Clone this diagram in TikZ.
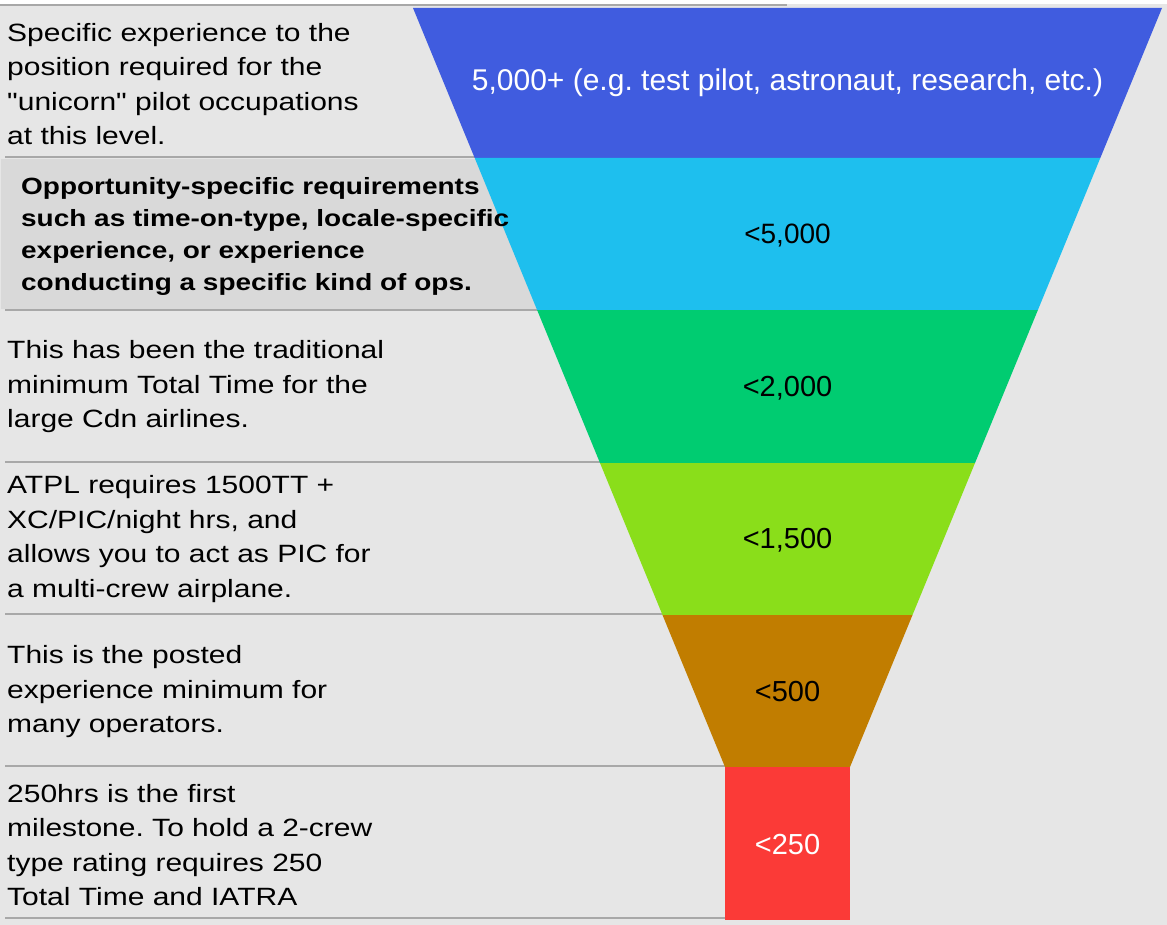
\documentclass[tikz,border=0pt]{standalone}
\usepackage{fontspec}
\setmainfont{Liberation Sans}
\newfontfamily\notefont{Liberation Sans}[FakeStretch=1.2,Ligatures=TeXOff]
\newfontfamily\boxfont{Liberation Sans}[FakeStretch=1.19]
\usepackage{xcolor}
\frenchspacing

\definecolor{bggrey}{HTML}{E6E6E6}
\definecolor{bandgrey}{HTML}{D9D9D9}
\definecolor{rulegrey}{HTML}{A8A8A8}
\definecolor{fblue}{HTML}{405CDF}
\definecolor{fcyan}{HTML}{1EBFEE}
\definecolor{fgreen}{HTML}{00CC71}
\definecolor{flime}{HTML}{8ADE1A}
\definecolor{fbrown}{HTML}{C17D00}
\definecolor{fred}{HTML}{FB3A37}

\tikzset{
  note/.style={anchor=west,align=left,inner sep=0pt,font=\notefont\fontsize{25}{34.5}\selectfont},
  val/.style={inner sep=0pt,font=\fontsize{29}{30}\selectfont},
  sep/.style={draw=rulegrey,line width=2pt},
}

\begin{document}
\begin{tikzpicture}[x=1pt,y=-1pt]
\fill[bggrey] (0,0) rectangle (1167,925);
\fill[white] (0,0) rectangle (1167,4);
\useasboundingbox (0,0) rectangle (1167,925);
% band behind the second note
\fill[bandgrey] (1,159) rectangle (540,309);
% row separators
\draw[sep] (0,5) -- (787,5);
\foreach \y in {157,310,462,614,766,918}
  \draw[sep] (5,\y) -- (800,\y);
% funnel
\fill[fblue] (413,8) -- (1162,8) -- (1100.3,158) -- (474.7,158) -- cycle;
\fill[fcyan] (474.7,158) -- (1100.3,158) -- (1037.9,310) -- (537.1,310) -- cycle;
\fill[fgreen] (537.1,310) -- (1037.9,310) -- (975,463) -- (600,463) -- cycle;
\fill[flime] (600,463) -- (975,463) -- (912.5,615) -- (662.5,615) -- cycle;
\fill[fbrown] (662.5,615) -- (912.5,615) -- (850,767) -- (725,767) -- cycle;
\fill[fred] (725,767) rectangle (850,920);

\node[val,text=white,font=\fontsize{30}{30}\selectfont] (v1) at (787.5,83) {5,000+ (e.g. test pilot, astronaut, research, etc.)};
\node[val,font=\fontsize{28}{30}\selectfont] (v2) at (787.5,236) {<5,000};
\node[val] (v3) at (787.5,388) {<2,000};
\node[val] (v4) at (787.5,540) {<1,500};
\node[val] (v5) at (787.5,692) {<500};
\node[val,text=white] (v6) at (787.5,845) {<250};

\node[note] (n1) at (7,84) {Specific experience to the\\position required for the\\"unicorn" pilot occupations\\at this level.};
\node[note,font=\boxfont\bfseries\fontsize{23.5}{32}\selectfont] (n2) at (21,236) {Opportunity-specific requirements\\such as time-on-type, locale-specific\\experience, or experience\\conducting a specific kind of ops.};
\node[note] (n3) at (7,387) {This has been the traditional\\minimum Total Time for the\\large Cdn airlines.};
\node[note] (n4) at (7,539) {ATPL requires 1500TT +\\XC/PIC/night hrs, and\\allows you to act as PIC for\\a multi-crew airplane.};
\node[note] (n5) at (7,692) {This is the posted\\experience minimum for\\many operators.};
\node[note] (n6) at (7,845) {250hrs is the first\\milestone. To hold a 2-crew\\type rating requires 250\\Total Time and IATRA};
\end{tikzpicture}
\end{document}
